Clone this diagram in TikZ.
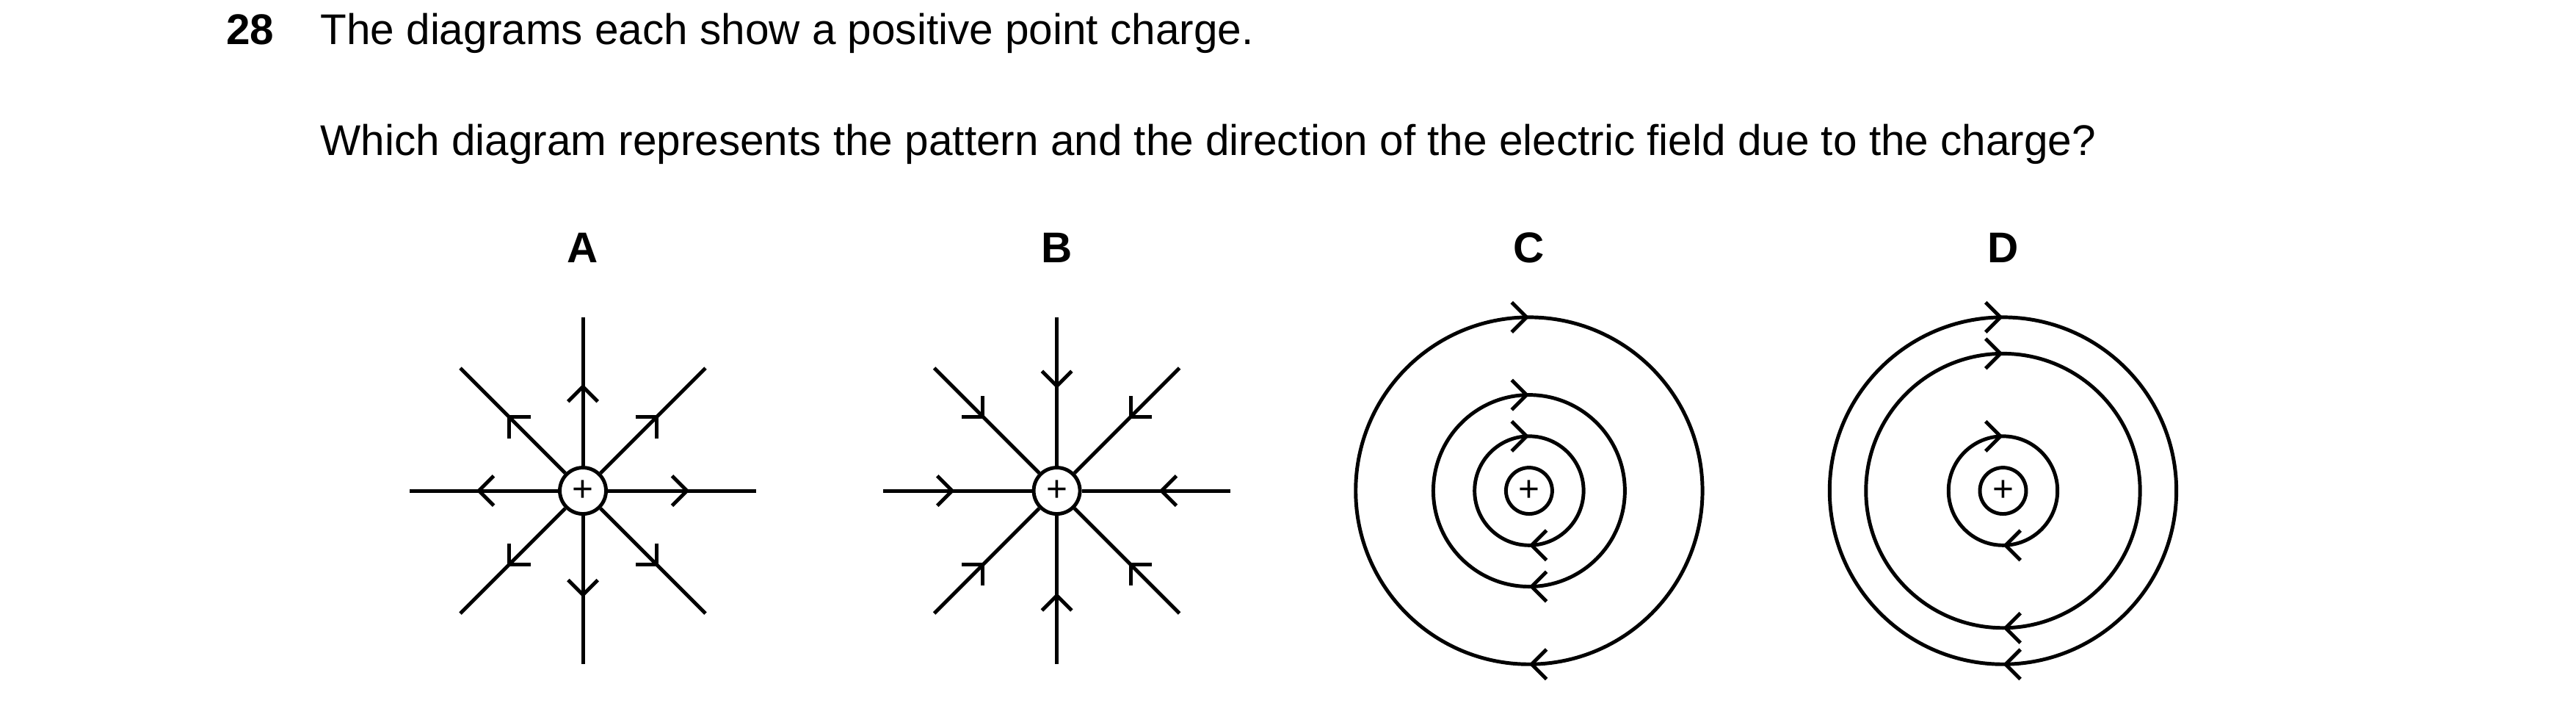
\documentclass[tikz,border=0pt]{standalone}
\usepackage{fontspec}
\setmainfont{Liberation Sans}
\usetikzlibrary{arrows.meta,decorations.markings}

\tikzset{
  field/.style={line width=1.1pt},
  charge/.style={circle,draw,line width=1.1pt,minimum size=14pt,inner sep=0pt,
    font=\fontsize{11}{11}\selectfont},
  outmark/.style={postaction={decorate},decoration={markings,
    mark=at position #1 with {\arrow{Straight Barb[length=4.5pt,width=9pt,line width=1.1pt]}}}},
  inmark/.style={postaction={decorate},decoration={markings,
    mark=at position #1 with {\arrowreversed{Straight Barb[length=4.5pt,width=9pt,line width=1.1pt]}}}},
  loopmark/.style={postaction={decorate},decoration={markings,
    mark=at position 0.25 with {\arrow{Straight Barb[length=4.5pt,width=9pt,line width=1.1pt]}},
    mark=at position 0.75 with {\arrow{Straight Barb[length=4.5pt,width=9pt,line width=1.1pt]}}}},
  label/.style={font=\fontsize{13}{13}\selectfont\bfseries}
}

\begin{document}
\begin{tikzpicture}[x=0.5pt,y=0.5pt]
    \useasboundingbox (0,0) rectangle (1560,-425.3);
    % Question text
    \node[anchor=base west,font=\fontsize{13}{13}\selectfont\bfseries] (num) at (130,-27) {28};
    \node[anchor=base west,font=\fontsize{13}{13}\selectfont] (q1) at (187,-27)
        {The diagrams each show a positive point charge.};
    \node[anchor=base west,font=\fontsize{13}{13}\selectfont] (q2) at (187,-94)
        {Which diagram represents the pattern and the direction of the electric field due to the charge?};

    % Labels
    \node[label] (la) at (353,-150) {A};
    \node[label] (lb) at (640,-150) {B};
    \node[label] (lc) at (926,-150) {C};
    \node[label] (ld) at (1213,-150) {D};

    % Charges
    \node[charge] (qa) at (353,-297) {+};
    \node[charge] (qb) at (640,-297) {+};
    \node[charge] (qc) at (926,-297) {+};
    \node[charge] (qd) at (1213,-297) {+};

    % A: field lines outward
    \foreach \a in {0,45,...,315} {
      \path (qa) ++(\a:105) coordinate (a\a);
      \draw[field,outmark=0.55] (qa.\a) -- (a\a);
    }
    % B: field lines inward
    \foreach \a in {0,45,...,315} {
      \path (qb) ++(\a:105) coordinate (b\a);
      \draw[field,inmark=0.52] (qb.\a) -- (b\a);
    }

    % C: closed loops
    \foreach \r in {33,58,105}
      \draw[field,loopmark] (qc) ++(-\r,0) arc[start angle=180,end angle=-180,radius=\r];
    % D: closed loops
    \foreach \r in {33,83,105}
      \draw[field,loopmark] (qd) ++(-\r,0) arc[start angle=180,end angle=-180,radius=\r];
\end{tikzpicture}
\end{document}
